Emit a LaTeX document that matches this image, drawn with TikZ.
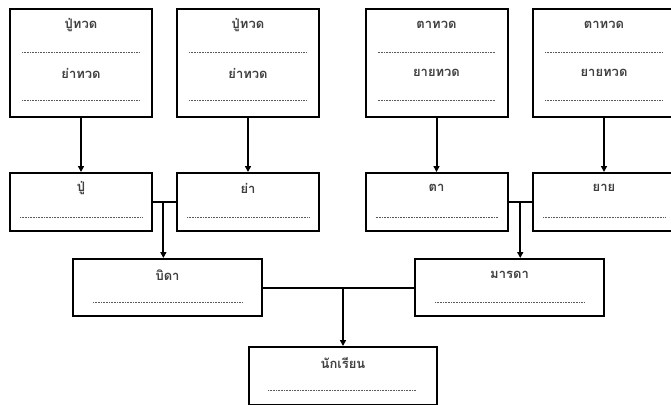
\documentclass[tikz,border=0pt]{standalone}
\usepackage{fontspec}
\newfontfamily\thaifont[Script=Thai]{Loma}
\usetikzlibrary{arrows.meta,calc}
\tikzset{
  box/.style={draw=black, line width=2pt, fill=white, inner sep=0pt},
  lbl/.style={font=\thaifont\bfseries\fontsize{13}{15}\selectfont, text=black!75, inner sep=0pt},
  dots/.style={draw=black!65, line width=0.8pt, dash pattern=on 0.8pt off 0.8pt},
  conn/.style={draw=black, line width=2pt},
  arr/.style={conn, -{Triangle[length=6pt,width=6pt]}}
}
\begin{document}
\begin{tikzpicture}[x=1pt,y=-1pt]
\clip (0,0) rectangle (671,404);
\fill[white] (0,0) rectangle (671,404);
% top boxes
\node[box, minimum width=142pt, minimum height=108pt] (g1) at (81,63) {};
\node[box, minimum width=142pt, minimum height=108pt] (g2) at (248,63) {};
\node[box, minimum width=142pt, minimum height=108pt] (g3) at (436.5,63) {};
\node[box, minimum width=142pt, minimum height=108pt] (g4) at (604,63) {};
\node[lbl] (g1a) at (81,25) {ปู่ทวด};
\node[lbl] (g1b) at (81,73) {ย่าทวด};
\node[lbl] (g2a) at (248,25) {ปู่ทวด};
\node[lbl] (g2b) at (248,73) {ย่าทวด};
\node[lbl] (g3a) at (436.5,25) {ตาทวด};
\node[lbl] (g3b) at (436.5,73) {ยายทวด};
\node[lbl] (g4a) at (604,25) {ตาทวด};
\node[lbl] (g4b) at (604,73) {ยายทวด};
\foreach \c in {81,248,436.5,604}{
  \draw[dots] (\c-59,52) -- (\c+59,52);
  \draw[dots] (\c-59,100) -- (\c+59,100);
}
% second row
\node[box, minimum width=142pt, minimum height=58pt] (pu) at (81,202) {};
\node[box, minimum width=142pt, minimum height=58pt] (ya) at (248,202) {};
\node[box, minimum width=142pt, minimum height=58pt] (ta) at (436.5,202) {};
\node[box, minimum width=142pt, minimum height=58pt] (yai) at (604,202) {};
\node[lbl] (pul) at (81,188) {ปู่};
\node[lbl] (yal) at (248,188) {ย่า};
\node[lbl] (tal) at (436.5,188) {ตา};
\node[lbl] (yail) at (604,188) {ยาย};
\foreach \c in {81,248,436.5,604}{
  \draw[dots] (\c-61,217) -- (\c+61,217);
}
% parents
\node[box, minimum width=189pt, minimum height=57pt] (bida) at (167.5,287.5) {};
\node[box, minimum width=189pt, minimum height=57pt] (mada) at (509.5,287.5) {};
\node[lbl] (bidal) at (167.5,275) {บิดา};
\node[lbl] (madal) at (509.5,275) {มารดา};
\draw[dots] (93,302) -- (242,302);
\draw[dots] (435,302) -- (584,302);
% student
\node[box, minimum width=188pt, minimum height=58pt] (stu) at (343,376) {};
\node[lbl] (stul) at (343,363) {นักเรียน};
\draw[dots] (268,390) -- (416,390);
% connectors: great-grandparents to grandparents
\draw[arr] (g1.south) -- (pu.north);
\draw[arr] (g2.south) -- (ya.north);
\draw[arr] (g3.south) -- (ta.north);
\draw[arr] (g4.south) -- (yai.north);
% marriages
\draw[conn] (pu.east) -- (ya.west);
\coordinate (m1) at ($(pu.east)!0.45!(ya.west)$);
\draw[arr] (m1) -- (m1 |- bida.north);
\draw[conn] (ta.east) -- (yai.west);
\coordinate (m2) at ($(ta.east)!0.5!(yai.west)$);
\draw[arr] (m2) -- (m2 |- mada.north);
\draw[conn] (bida.east) -- (mada.west);
\coordinate (m3) at (bida.east -| stu.north);
\draw[arr] (m3) -- (stu.north);
\end{tikzpicture}
\end{document}
